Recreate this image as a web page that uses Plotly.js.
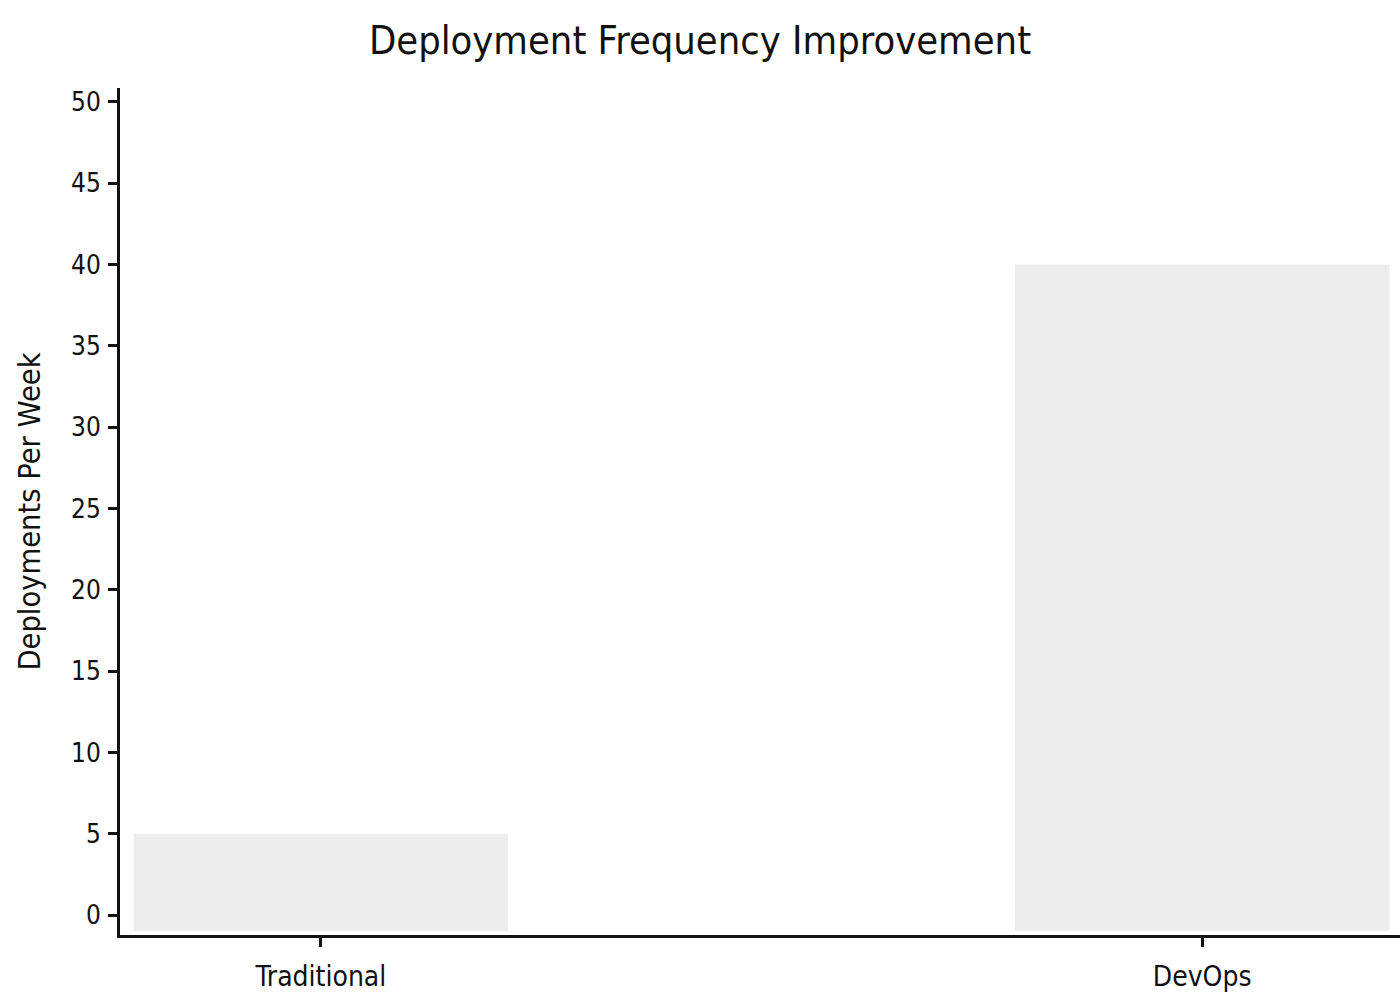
<!DOCTYPE html>
<html>
<head>
<meta charset="utf-8">
<script src="https://cdn.plot.ly/plotly-3.0.1.min.js"></script>
<style>
	html, body { margin: 0; padding: 0; background: #fff; }
	#plot { width: 1400px; height: 1000px; }
</style>
</head>
<body>
<div id="plot"></div>
<script>
const categories = ["Traditional", "DevOps"];
const deploymentsPerWeek = [5, 40];
const yTickValues = [0, 5, 10, 15, 20, 25, 30, 35, 40, 45, 50];

const FONT = "DejaVu Sans Condensed, DejaVu Sans, sans-serif";
const INK = "#111";
const BAR_BASE = -1;

const axisCommon = {
	showline: true,
	linecolor: INK,
	linewidth: 3,
	ticks: "outside",
	ticklen: 9,
	tickwidth: 3,
	tickcolor: INK,
	showgrid: false,
	zeroline: false,
};

const data = [
	{
		type: "bar",
		x: categories,
		// bars hang from just below zero, like the reference
		y: deploymentsPerWeek.map(v => v - BAR_BASE),
		base: BAR_BASE,
		width: 0.425,
		marker: { color: "#ededed", line: { width: 0 } },
		hoverinfo: "skip",
	},
];

const layout = {
	width: 1400,
	height: 1000,
	margin: { l: 120, r: 0, t: 88, b: 65 },
	paper_bgcolor: "#fff",
	plot_bgcolor: "#fff",
	showlegend: false,
	font: { family: FONT, color: INK },
	title: {
		text: "Deployment Frequency Improvement",
		font: { family: FONT, size: 39.5, color: INK },
		x: 0.5,
		xanchor: "center",
		y: 0.96,
		yanchor: "middle",
	},
	xaxis: {
		...axisCommon,
		type: "category",
		range: [-0.228, 1.2245],
		tickfont: { family: FONT, size: 28, color: INK },
		ticklabelstandoff: 5,
	},
	yaxis: {
		...axisCommon,
		range: [-1.23, 50.86],
		tickvals: yTickValues,
		tickfont: { family: FONT, size: 26, color: INK },
		ticklabelstandoff: 2,
		title: {
			text: "Deployments Per Week",
			font: { family: FONT, size: 30.5, color: INK },
			standoff: 22,
		},
	},
};

Plotly.newPlot("plot", data, layout, { displayModeBar: false, staticPlot: true });
</script>
</body>
</html>
